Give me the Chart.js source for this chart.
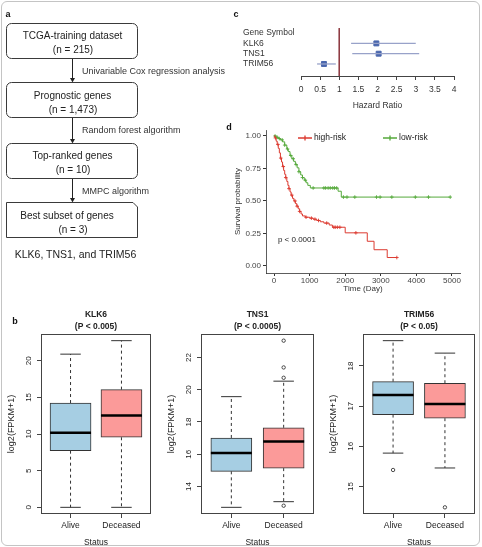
<!DOCTYPE html>
<html>
<head>
<meta charset="utf-8">
<script src="https://cdn.jsdelivr.net/npm/chart.js@4.4.1/dist/chart.umd.min.js"></script>
<style>
  html, body { margin: 0; padding: 0; background: #fff; }
  body { width: 482px; height: 547px; position: relative; overflow: hidden; font-family: "Liberation Sans", Arial, sans-serif; }
  .frame { position: absolute; left: 1px; top: 1px; width: 477px; height: 543px; border: 1px solid #c4c4c4; border-radius: 6px; }
  canvas { position: absolute; }
  #overlay { position: absolute; left: 0; top: 0; pointer-events: none; }
</style>
</head>
<body>
<div class="frame"></div>

<canvas id="forestChart" width="236" height="95" style="left:240px; top:20px;"></canvas>
<canvas id="kmChart" width="240" height="180" style="left:228px; top:120px;"></canvas>
<canvas id="boxKlk6" width="160" height="250" style="left:0px; top:300px;"></canvas>
<canvas id="boxTns1" width="162" height="250" style="left:160px; top:300px;"></canvas>
<canvas id="boxTrim56" width="160" height="250" style="left:322px; top:300px;"></canvas>

<!-- panel a: workflow, plus the panel letters -->
<svg id="overlay" width="482" height="547" font-family="Liberation Sans, Arial, sans-serif">
  <g font-size="9" font-weight="bold" fill="#111" dominant-baseline="central" text-anchor="middle">
    <text x="8" y="14">a</text>
    <text x="236" y="14">c</text>
    <text x="229" y="127">d</text>
    <text x="15" y="321">b</text>
  </g>
  <g fill="#fff" stroke="#3a3a3a" stroke-width="1">
    <rect x="6.5" y="23.5" width="131" height="35" rx="5"/>
    <rect x="6.5" y="82.5" width="131" height="35" rx="5"/>
    <rect x="6.5" y="143.5" width="131" height="35" rx="5"/>
    <path d="M6.5 202.5 H133 L137.5 207 V237.5 H6.5 Z"/>
  </g>
  <g stroke="#222" stroke-width="1">
    <line x1="72.5" y1="59" x2="72.5" y2="79"/>
    <line x1="72.5" y1="118" x2="72.5" y2="140"/>
    <line x1="72.5" y1="179" x2="72.5" y2="199"/>
  </g>
  <g fill="#222">
    <polygon points="70,78 75,78 72.5,82.5"/>
    <polygon points="70,139 75,139 72.5,143.5"/>
    <polygon points="70,198 75,198 72.5,202.5"/>
  </g>
  <g font-size="10" fill="#222" text-anchor="middle" dominant-baseline="central">
    <text x="72.5" y="35">TCGA-training dataset</text>
    <text x="73" y="49">(n = 215)</text>
    <text x="72.5" y="95">Prognostic genes</text>
    <text x="73" y="109">(n = 1,473)</text>
    <text x="72.5" y="155">Top-ranked genes</text>
    <text x="73" y="169">(n = 10)</text>
    <text x="67" y="215">Best subset of genes</text>
    <text x="73" y="229">(n = 3)</text>
  </g>
  <g font-size="9" fill="#333" dominant-baseline="central">
    <text x="82" y="71">Univariable Cox regression analysis</text>
    <text x="82" y="130">Random forest algorithm</text>
    <text x="82" y="191">MMPC algorithm</text>
  </g>
  <text x="75.5" y="254" font-size="10.5" fill="#222" text-anchor="middle" dominant-baseline="central">KLK6, TNS1, and TRIM56</text>
</svg>

<script>
/* ---------- data ---------- */

// panel c: hazard ratios
const hrLabels = ["Gene Symbol", "KLK6", "TNS1", "TRIM56"];
const hrValues = [1.97, 2.03, 0.60];
const hrLower = [1.31, 1.34, 0.42];
const hrUpper = [3.00, 3.09, 0.91];
const hrTicks = [0, 0.5, 1, 1.5, 2, 2.5, 3, 3.5, 4];

// panel d: Kaplan-Meier steps (time in days, survival probability)
const highTimes = [0, 30, 60, 90, 120, 150, 180, 210, 240, 270, 300, 330, 360, 390, 420, 450, 480, 520, 560, 600, 640, 680, 720, 760, 800, 880, 1000, 1100, 1200, 1300, 1400, 1550, 1640, 2000, 2620, 2810, 3180, 3450];
const highSurv = [1.0, 0.985, 0.96, 0.935, 0.905, 0.87, 0.83, 0.80, 0.765, 0.735, 0.705, 0.68, 0.65, 0.62, 0.595, 0.57, 0.545, 0.52, 0.50, 0.48, 0.46, 0.44, 0.42, 0.40, 0.385, 0.375, 0.368, 0.36, 0.35, 0.34, 0.33, 0.315, 0.298, 0.255, 0.19, 0.125, 0.065, 0.065];
const lowTimes = [0, 60, 120, 180, 240, 300, 360, 400, 450, 500, 550, 600, 650, 700, 750, 800, 850, 900, 950, 1020, 1800, 1890, 4950];
const lowSurv = [1.0, 0.99, 0.98, 0.97, 0.955, 0.93, 0.90, 0.88, 0.85, 0.825, 0.805, 0.78, 0.755, 0.725, 0.70, 0.68, 0.66, 0.64, 0.62, 0.60, 0.575, 0.53, 0.53];
const highCensor = [40, 110, 190, 260, 330, 420, 500, 590, 650, 720, 900, 1050, 1150, 1250, 1480, 1680, 1720, 1780, 1850, 2300, 3450];
const lowCensor = [30, 90, 150, 230, 300, 380, 470, 540, 620, 700, 800, 880, 1100, 1400, 1450, 1520, 1580, 1650, 1700, 1760, 1950, 2050, 2270, 2880, 2980, 3310, 3970, 4340, 4950];
const kmTimeTicks = [0, 1000, 2000, 3000, 4000, 5000];
const kmSurvTicks = [0, 0.25, 0.5, 0.75, 1];

// panel b: box plot statistics (log2(FPKM+1))
const boxGroups = ["Alive", "Deceased"];
const klk6Low = [0, 0];
const klk6Q1 = [7.73, 9.56];
const klk6Median = [10.16, 12.54];
const klk6Q3 = [14.23, 16.06];
const klk6High = [20.9, 22.74];
const klk6OutGroup = [];
const klk6OutValue = [];
const klk6Ticks = [0, 5, 10, 15, 20];

const tns1Low = [12.71, 13.06];
const tns1Q1 = [14.94, 15.14];
const tns1Median = [16.08, 16.79];
const tns1Q3 = [17.01, 17.64];
const tns1High = [19.57, 20.53];
const tns1OutGroup = [2, 2, 2, 2];
const tns1OutValue = [23.04, 21.38, 20.74, 12.81];
const tns1Ticks = [14, 16, 18, 20, 22];

const trim56Low = [15.83, 15.46];
const trim56Q1 = [16.79, 16.70];
const trim56Median = [17.28, 17.05];
const trim56Q3 = [17.61, 17.57];
const trim56High = [18.63, 18.32];
const trim56OutGroup = [1, 2];
const trim56OutValue = [15.41, 14.48];
const trim56Ticks = [15, 16, 17, 18];

/* ---------- shared setup ---------- */

const FONT = "'Liberation Sans', Arial, sans-serif";
Chart.defaults.font.family = FONT;
Chart.defaults.color = "#333";
Chart.defaults.animation = false;
Chart.defaults.responsive = false;
Chart.defaults.plugins.legend.display = false;
Chart.defaults.plugins.tooltip.enabled = false;

function fixedTicks(values) {
  return (scale) => { scale.ticks = values.map((v) => ({ value: v })); };
}

function survAt(times, surv, t) {
  let s = surv[0];
  for (let i = 0; i < times.length; i++) if (times[i] <= t) s = surv[i];
  return s;
}

/* ---------- panel c: forest plot ---------- */

new Chart(document.getElementById("forestChart"), {
  type: "scatter",
  data: {
    datasets: [
      { data: [{ x: 1, y: -0.49 }, { x: 1, y: 4.17 }], showLine: true, borderColor: "#8E3B42", borderWidth: 1, pointRadius: 0 },
      ...hrValues.map((v, i) => ({
        data: [{ x: hrLower[i], y: i + 1 }, { x: hrUpper[i], y: i + 1 }],
        showLine: true, borderColor: "#98A2C9", borderWidth: 1.3, pointRadius: 0
      })),
      { data: hrValues.map((v, i) => ({ x: v, y: i + 1 })), pointStyle: "rect", pointRadius: 3.5, backgroundColor: "#4A67AE", borderColor: "#4A67AE" }
    ]
  },
  options: {
    layout: { padding: { left: 3, top: 8, right: 22, bottom: 0 } },
    scales: {
      x: {
        type: "linear", min: 0, max: 4,
        afterBuildTicks: fixedTicks(hrTicks),
        afterFit: (s) => { s.height = 39; },
        ticks: { font: { size: 8.5 }, color: "#333", padding: 5, callback: (v) => String(v) },
        grid: { display: true, drawOnChartArea: false, drawTicks: true, tickLength: 4, color: "#444" },
        border: { display: true, color: "#444", width: 1 },
        title: { display: true, text: "Hazard Ratio", font: { size: 8.5 }, color: "#333", padding: { top: 0, bottom: 4 } }
      },
      y: {
        type: "linear", reverse: true, min: -0.49, max: 4.17,
        afterBuildTicks: fixedTicks([0, 1, 2, 3]),
        afterFit: (s) => { s.width = 58; },
        ticks: { font: { size: 8.5 }, color: "#333", crossAlign: "far", callback: (v) => hrLabels[v] },
        grid: { display: false },
        border: { display: false }
      }
    }
  }
});

/* ---------- panel d: Kaplan-Meier ---------- */

const kmExtras = {
  id: "kmExtras",
  afterDraw(chart, args, opts) {
    const { ctx, chartArea, scales } = chart;
    ctx.save();
    ctx.textBaseline = "middle";
    opts.legendDx.forEach((dx, i) => {
      const ds = chart.data.datasets[i];
      const x = chartArea.left + dx;
      const y = chartArea.top + 8;
      ctx.strokeStyle = ds.borderColor;
      ctx.lineWidth = 1.3;
      ctx.beginPath();
      ctx.moveTo(x, y); ctx.lineTo(x + 14, y);
      ctx.moveTo(x + 7, y - 2.5); ctx.lineTo(x + 7, y + 2.5);
      ctx.stroke();
      ctx.fillStyle = "#222";
      ctx.font = "8.5px " + FONT;
      ctx.fillText(ds.label, x + 16, y);
    });
    ctx.font = "8px " + FONT;
    ctx.fillStyle = "#222";
    ctx.fillText(opts.pText, scales.x.getPixelForValue(opts.pAt[0]), scales.y.getPixelForValue(opts.pAt[1]));
    ctx.restore();
  }
};

const RED = "#DC3A30";
const GREEN = "#55A93B";

new Chart(document.getElementById("kmChart"), {
  type: "line",
  data: {
    datasets: [
      { label: "high-risk", data: highTimes.map((t, i) => ({ x: t, y: highSurv[i] })), stepped: "before", borderColor: RED, borderWidth: 1, pointRadius: 0, fill: false },
      { label: "low-risk", data: lowTimes.map((t, i) => ({ x: t, y: lowSurv[i] })), stepped: "before", borderColor: GREEN, borderWidth: 1, pointRadius: 0, fill: false },
      { data: highCensor.map((t) => ({ x: t, y: survAt(highTimes, highSurv, t) })), showLine: false, pointStyle: "cross", pointRadius: 1.8, borderColor: RED, borderWidth: 0.9 },
      { data: lowCensor.map((t) => ({ x: t, y: survAt(lowTimes, lowSurv, t) })), showLine: false, pointStyle: "cross", pointRadius: 1.8, borderColor: GREEN, borderWidth: 0.9 }
    ]
  },
  options: {
    layout: { padding: { left: 0, top: 10, right: 8, bottom: 0 } },
    plugins: { kmExtras: { legendDx: [32, 117], pText: "p < 0.0001", pAt: [110, 0.2] } },
    scales: {
      x: {
        type: "linear", min: -225, max: 5225,
        afterBuildTicks: fixedTicks(kmTimeTicks),
        afterFit: (s) => { s.height = 27; },
        ticks: { font: { size: 8 }, color: "#444", padding: 0, callback: (v) => String(v) },
        grid: { display: true, drawOnChartArea: false, tickLength: 3, color: "#333" },
        border: { display: true, color: "#333", width: 0.8 },
        title: { display: true, text: "Time (Day)", font: { size: 8 }, color: "#333", padding: { top: 0, bottom: 6 } }
      },
      y: {
        type: "linear", min: -0.054, max: 1.046,
        afterBuildTicks: fixedTicks(kmSurvTicks),
        afterFit: (s) => { s.width = 38; },
        ticks: { font: { size: 8 }, color: "#444", padding: 2, callback: (v) => v.toFixed(2) },
        grid: { display: true, drawOnChartArea: false, tickLength: 3, color: "#333" },
        border: { display: true, color: "#333", width: 0.8 },
        title: { display: true, text: "Survival probability", font: { size: 8 }, color: "#333", padding: { top: 5, bottom: 0 } }
      }
    }
  },
  plugins: [kmExtras]
});

/* ---------- panel b: box plots ---------- */

const boxExtras = {
  id: "boxExtras",
  afterDatasetsDraw(chart, args, opts) {
    const { ctx, chartArea, scales: { x, y } } = chart;
    ctx.save();
    opts.low.forEach((lo, i) => {
      const cx = x.getPixelForValue(i + 1);
      const cap = opts.boxWidth / 4;
      const yLo = y.getPixelForValue(lo);
      const yHi = y.getPixelForValue(opts.high[i]);
      ctx.strokeStyle = "#333";
      ctx.lineWidth = 1;
      ctx.setLineDash([3, 3]);
      ctx.beginPath();
      ctx.moveTo(cx, y.getPixelForValue(opts.q1[i])); ctx.lineTo(cx, yLo);
      ctx.moveTo(cx, y.getPixelForValue(opts.q3[i])); ctx.lineTo(cx, yHi);
      ctx.stroke();
      ctx.setLineDash([]);
      ctx.beginPath();
      ctx.moveTo(cx - cap, yLo); ctx.lineTo(cx + cap, yLo);
      ctx.moveTo(cx - cap, yHi); ctx.lineTo(cx + cap, yHi);
      ctx.stroke();
      const yMed = y.getPixelForValue(opts.median[i]);
      ctx.strokeStyle = "#000";
      ctx.lineWidth = 2.5;
      ctx.beginPath();
      ctx.moveTo(cx - opts.boxWidth / 2, yMed); ctx.lineTo(cx + opts.boxWidth / 2, yMed);
      ctx.stroke();
    });
    ctx.strokeStyle = "#444";
    ctx.lineWidth = 1;
    ctx.strokeRect(Math.round(chartArea.left) + 0.5, Math.round(chartArea.top) + 0.5, Math.round(chartArea.width) - 1, Math.round(chartArea.height) - 1);
    ctx.restore();
  },
  afterDraw(chart, args, opts) {
    const { ctx, chartArea, scales: { y } } = chart;
    ctx.save();
    ctx.fillStyle = "#222";
    ctx.textAlign = "center";
    ctx.textBaseline = "middle";
    ctx.font = "8px " + FONT;
    y.ticks.forEach((t) => {
      ctx.save();
      ctx.translate(chartArea.left - 12, y.getPixelForValue(t.value));
      ctx.rotate(-Math.PI / 2);
      ctx.fillText(String(t.value), 0, 0);
      ctx.restore();
    });
    const cx = (chartArea.left + chartArea.right) / 2;
    ctx.font = "bold 8.5px " + FONT;
    ctx.fillText(opts.title[0], cx, chartArea.top - 19);
    ctx.fillText(opts.title[1], cx, chartArea.top - 7);
    ctx.restore();
  }
};

function makeBoxChart(canvasId, title, low, q1, median, q3, high, outGroup, outValue, yTicks, rightPad) {
  const all = low.concat(high, outValue);
  const lo = Math.min(...all);
  const hi = Math.max(...all);
  const pad = (hi - lo) * 0.04;
  const boxWidth = 41;
  new Chart(document.getElementById(canvasId), {
    type: "bar",
    data: {
      datasets: [
        {
          type: "bar",
          data: boxGroups.map((g, i) => ({ x: i + 1, y: [q1[i], q3[i]] })),
          backgroundColor: ["#A6CEE3", "#FB9A99"],
          borderColor: "#333", borderWidth: 1, borderSkipped: false, barThickness: boxWidth
        },
        {
          type: "line",
          data: outValue.map((v, i) => ({ x: outGroup[i], y: v })),
          showLine: false, pointStyle: "circle", pointRadius: 1.7, pointBorderWidth: 0.8,
          pointBorderColor: "#222", pointBackgroundColor: "rgba(0,0,0,0)"
        }
      ]
    },
    options: {
      layout: { padding: { left: 0, top: 34, right: rightPad, bottom: 0 } },
      plugins: { boxExtras: { title, low, q1, median, q3, high, boxWidth } },
      scales: {
        x: {
          type: "linear", min: 0.42, max: 2.58, offset: false,
          afterBuildTicks: fixedTicks([1, 2]),
          afterFit: (s) => { s.height = 36; },
          ticks: { font: { size: 8.5 }, color: "#222", padding: 3, callback: (v) => boxGroups[v - 1] },
          grid: { display: true, offset: false, drawOnChartArea: false, tickLength: 4, color: "#444" },
          border: { display: false },
          title: { display: true, text: "Status", font: { size: 8.5 }, color: "#222", padding: { top: 0, bottom: 2 } }
        },
        y: {
          type: "linear", min: lo - pad, max: hi + pad,
          afterBuildTicks: fixedTicks(yTicks),
          afterFit: (s) => { s.width = 41; },
          ticks: { display: false },
          grid: { display: true, drawOnChartArea: false, tickLength: 4, color: "#444" },
          border: { display: false },
          title: { display: true, text: "log2(FPKM+1)", font: { size: 9 }, color: "#222", padding: { top: 6.5, bottom: 0 } }
        }
      }
    },
    plugins: [boxExtras]
  });
}

makeBoxChart("boxKlk6", ["KLK6", "(P < 0.005)"], klk6Low, klk6Q1, klk6Median, klk6Q3, klk6High, klk6OutGroup, klk6OutValue, klk6Ticks, 9);
makeBoxChart("boxTns1", ["TNS1", "(P < 0.0005)"], tns1Low, tns1Q1, tns1Median, tns1Q3, tns1High, tns1OutGroup, tns1OutValue, tns1Ticks, 8);
makeBoxChart("boxTrim56", ["TRIM56", "(P < 0.05)"], trim56Low, trim56Q1, trim56Median, trim56Q3, trim56High, trim56OutGroup, trim56OutValue, trim56Ticks, 7);
</script>
</body>
</html>
